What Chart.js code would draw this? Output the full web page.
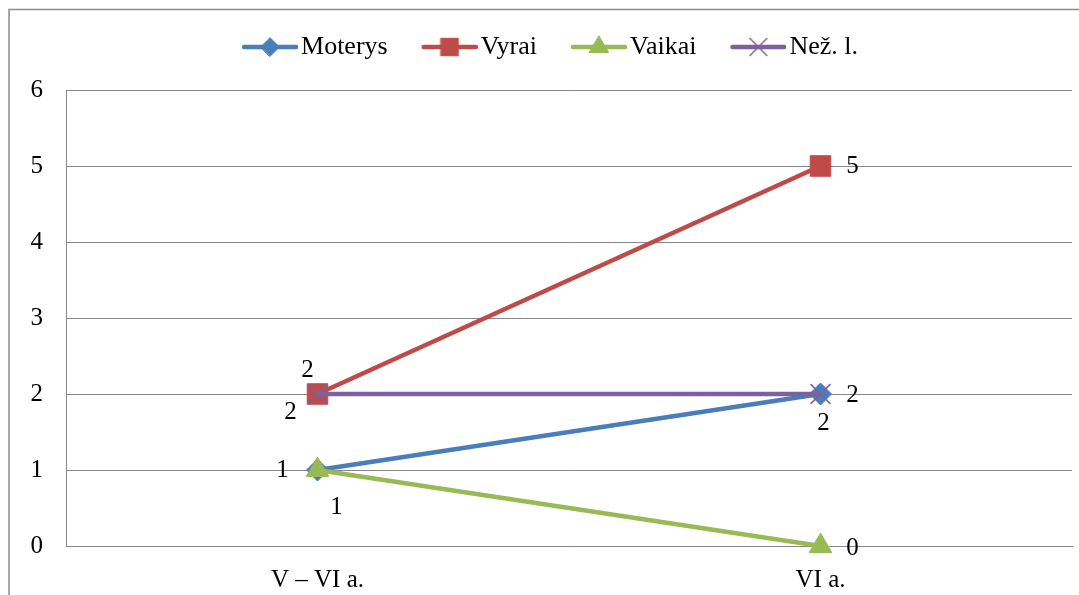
<!DOCTYPE html>
<html>
<head>
<meta charset="utf-8">
<script src="https://cdn.jsdelivr.net/npm/chart.js@4.4.0/dist/chart.umd.min.js"></script>
<style>
    html, body { margin: 0; background: #fff; overflow: hidden; }
    #wrap { width: 1079px; height: 595px; position: relative; }
</style>
</head>
<body>
<div id="wrap"><canvas id="chart"></canvas></div>
<script>
const categories = ['V – VI a.', 'VI a.'];
const moterys = [1, 2];
const vyrai = [2, 5];
const vaikai = [1, 0];
const nezl = [2, 2];
const yTicks = [0, 1, 2, 3, 4, 5, 6];

// look of each series + where its value labels sit (dx, dy from the point)
const series = [
    { label: 'Moterys', data: moterys, color: '#4A7EBB', style: 'rectRot', radius: 11, border: 1, order: 3, offsets: [[-35, 0], [3, 29]] },
    { label: 'Vyrai', data: vyrai, color: '#BE4B48', style: 'rect', radius: 14.5, border: 1, order: 2, offsets: [[-10, -24], [32, 0]] },
    { label: 'Vaikai', data: vaikai, color: '#98B954', style: 'triangle', radius: 13, border: 1, order: 1, offsets: [[19, 37], [32, 2]] },
    { label: 'Než. l.', data: nezl, color: '#7D60A0', style: 'crossRot', radius: 14, border: 1.5, order: 0, offsets: [[-27, 18], [32, 1]] }
];

const FONT = '"Liberation Serif", "Times New Roman", serif';
Chart.defaults.font.family = FONT;
Chart.defaults.font.size = 25;
Chart.defaults.color = '#000';

// legend icon: line with the marker in the middle
function makeIcon(s) {
    const c = document.createElement('canvas');
    c.width = 66;
    c.height = 26;
    const g = c.getContext('2d');
    g.strokeStyle = s.color;
    g.fillStyle = s.color;
    g.lineWidth = 4.5;
    g.lineCap = 'round';
    g.beginPath();
    g.moveTo(12, 13);
    g.lineTo(64, 13);
    g.stroke();
    g.lineWidth = s.border;
    Chart.helpers.drawPoint(g, { pointStyle: s.style, radius: s.radius * 0.85, rotation: 0, borderWidth: s.border }, 38, 13);
    return c;
}
const icons = series.map(makeIcon);

const valueLabels = {
    id: 'valueLabels',
    afterDatasetsDraw(chart) {
        const ctx = chart.ctx;
        ctx.save();
        ctx.font = '25px ' + FONT;
        ctx.fillStyle = '#000';
        ctx.textAlign = 'center';
        ctx.textBaseline = 'middle';
        chart.data.datasets.forEach((ds, i) => {
            const meta = chart.getDatasetMeta(i);
            meta.data.forEach((pt, j) => {
                const off = series[i].offsets[j];
                ctx.fillText(String(ds.data[j]), pt.x + off[0], pt.y + off[1]);
            });
        });
        ctx.restore();
    }
};

const frame = {
    id: 'frame',
    afterDraw(chart) {
        const ctx = chart.ctx;
        ctx.save();
        ctx.strokeStyle = '#8c8c8c';
        ctx.lineWidth = 1.5;
        ctx.strokeRect(9, 9.5, 2000, 2000);
        ctx.restore();
    }
};

const ctx = document.getElementById('chart').getContext('2d');
new Chart(ctx, {
    type: 'line',
    data: {
        labels: categories,
        datasets: series.map(s => ({
            label: s.label,
            data: s.data,
            order: s.order,
            clip: false,
            borderColor: s.color,
            backgroundColor: s.color,
            borderWidth: 4.5,
            pointStyle: s.style,
            pointRadius: s.radius,
            pointHoverRadius: s.radius,
            pointBackgroundColor: s.color,
            pointBorderColor: s.color,
            pointBorderWidth: s.border,
            tension: 0,
            fill: false
        }))
    },
    options: {
        responsive: true,
        maintainAspectRatio: false,
        animation: false,
        layout: { autoPadding: false, padding: { top: 0, right: 7, bottom: 0, left: 28 } },
        plugins: {
            legend: {
                position: 'top',
                labels: {
                    usePointStyle: true,
                    pointStyleWidth: 46,
                    padding: 34,
                    font: { size: 26 },
                    generateLabels(chart) {
                        const items = Chart.defaults.plugins.legend.labels.generateLabels(chart);
                        items.sort((a, b) => a.datasetIndex - b.datasetIndex);
                        items.forEach(it => { it.pointStyle = icons[it.datasetIndex]; });
                        return items;
                    }
                }
            },
            // empty title used only as a spacer between legend and plot
            title: {
                display: true,
                text: '',
                weight: 500,
                padding: { top: 19, bottom: 0 },
                font: { size: 1, lineHeight: 1 }
            },
            tooltip: { enabled: false }
        },
        scales: {
            x: {
                offset: true,
                grid: { display: false, drawTicks: false },
                border: { display: true, color: '#878787', width: 1 },
                ticks: { padding: 19, font: { size: 25 } },
                afterFit(scale) { scale.height = 49; }
            },
            y: {
                min: yTicks[0],
                max: yTicks[yTicks.length - 1],
                ticks: { stepSize: 1, padding: 23, font: { size: 25 } },
                grid: { color: '#878787', lineWidth: 1, drawTicks: false },
                border: { display: true, color: '#878787', width: 1 },
                afterFit(scale) { scale.width = 38; }
            }
        }
    },
    plugins: [valueLabels, frame]
});
</script>
</body>
</html>
